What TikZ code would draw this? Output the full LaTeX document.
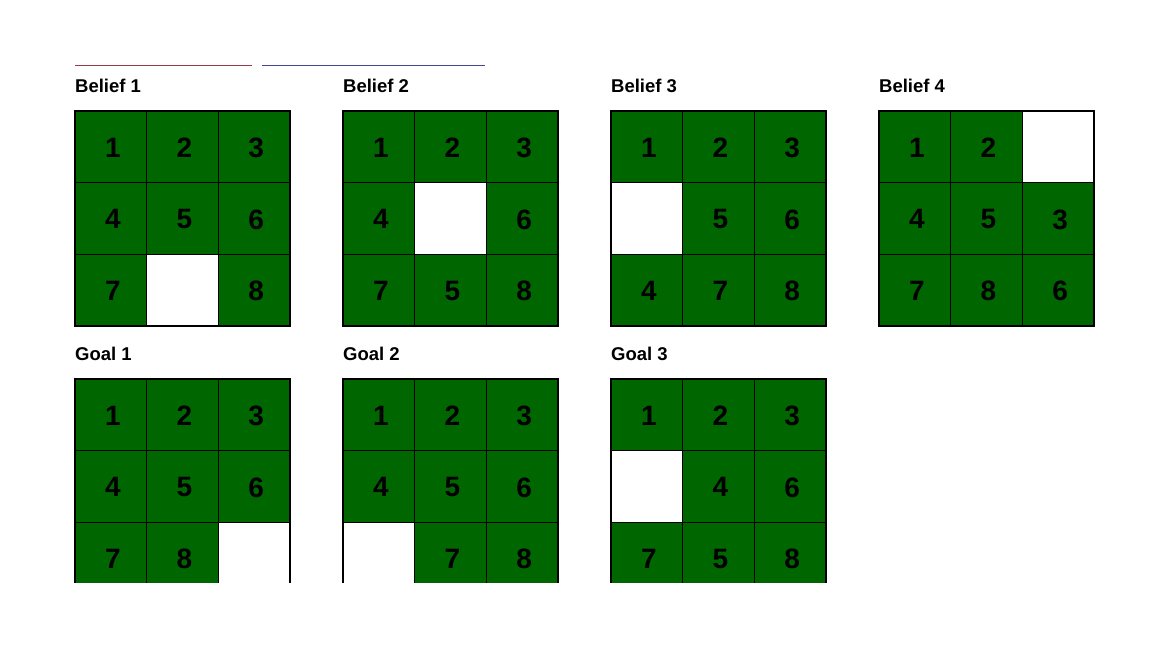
\documentclass[tikz,border=0pt]{standalone}
\usepackage{fontspec}
\setmainfont{Liberation Sans}
\definecolor{tilegreen}{RGB}{0,102,0}
\definecolor{linered}{RGB}{150,60,75}
\definecolor{lineblue}{RGB}{70,70,150}
\tikzset{
  tile/.style={draw=black, line width=1.3pt, fill=tilegreen, minimum size=71.67pt, inner sep=0pt, text depth=0pt, font=\bfseries\fontsize{28}{28}\selectfont},
  blank/.style={draw=black, line width=1.3pt, fill=white, minimum size=71.67pt, inner sep=0pt},
  boardtitle/.style={anchor=base west, inner sep=0pt, font=\bfseries\fontsize{18.5}{18.5}\selectfont}
}
% #1 x, #2 y, #3 nome, #4 pecas (0 = vazio)
\newcommand{\board}[4]{%
  \foreach \t [count=\i from 0] in {#4} {
    \pgfmathtruncatemacro{\bc}{mod(\i,3)}
    \pgfmathtruncatemacro{\br}{div(\i,3)}
    \ifnum\t=0
      \node[blank] (#3-\i) at ({#1+35.83+71.67*\bc},{#2+35.83+71.67*\br}) {};
    \else
      \node[tile, text width=71.67pt, align=center] (#3-\i) at ({#1+35.83+71.67*\bc},{#2+35.83+71.67*\br}) {\hspace*{4pt}\raisebox{-1.5pt}{\t}};
    \fi
  }
}
\begin{document}
\begin{tikzpicture}[x=1pt, y=-1pt]
  \useasboundingbox (0,0) rectangle (1152,648); % moldura
  \draw[linered, line width=0.8pt] (75,65) -- (252,65); % linha vermelha
  \draw[lineblue, line width=0.8pt] (262,65) -- (485,65); % linha azul
  % crencas
  \node[boardtitle] (tb1) at (75,92) {Belief 1};
  \node[boardtitle] (tb2) at (343,92) {Belief 2};
  \node[boardtitle] (tb3) at (611,92) {Belief 3};
  \node[boardtitle] (tb4) at (879,92) {Belief 4};
  \board{75}{111}{b1}{1,2,3,4,5,6,7,0,8}
  \board{343}{111}{b2}{1,2,3,4,0,6,7,5,8}
  \board{611}{111}{b3}{1,2,3,0,5,6,4,7,8}
  \board{879}{111}{b4}{1,2,0,4,5,3,7,8,6}
  % objetivos
  \node[boardtitle] (tg1) at (75,360) {Goal 1};
  \node[boardtitle] (tg2) at (343,360) {Goal 2};
  \node[boardtitle] (tg3) at (611,360) {Goal 3};
  \begin{scope}
    \clip (0,0) rectangle (1152,582.5); % corte em baixo
    \board{75}{379}{g1}{1,2,3,4,5,6,7,8,0}
    \board{343}{379}{g2}{1,2,3,4,5,6,0,7,8}
    \board{611}{379}{g3}{1,2,3,0,4,6,7,5,8}
  \end{scope}
\end{tikzpicture}
\end{document}
